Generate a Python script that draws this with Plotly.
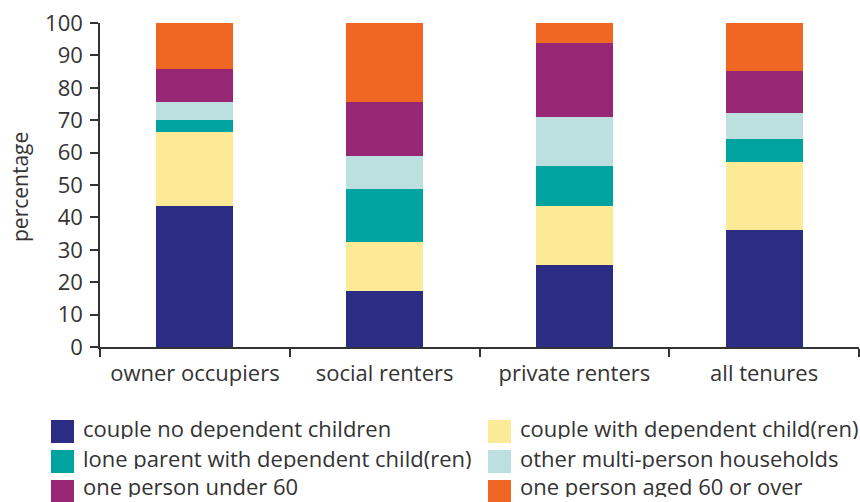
import plotly.graph_objects as go

categories = ["owner occupiers", "social renters", "private renters", "all tenures"]

couple_no_dep = [43.5, 17.3, 25.3, 36.1]
couple_with_dep = [22.9, 15.1, 18.2, 21.0]
lone_parent = [3.7, 16.4, 12.4, 7.1]
other_multi = [5.6, 10.2, 15.1, 8.0]
one_under_60 = [10.1, 16.6, 22.8, 13.0]
one_60_over = [14.2, 24.4, 6.2, 14.8]

series_names = [
    "couple no dependent children",
    "couple with dependent child(ren)",
    "lone parent with dependent child(ren)",
    "other multi-person households",
    "one person under 60",
    "one person aged 60 or over",
]
series_values = [couple_no_dep, couple_with_dep, lone_parent, other_multi, one_under_60, one_60_over]
series_colors = ["#2a2d83", "#fdea97", "#00a39f", "#bcdfe0", "#972774", "#ef6722"]

FONT = "Open Sans"
TXT = "#333333"

W, H = 860, 502
L, R, T, B = 100, 1, 23, 155
PW, PH = W - L - R, H - T - B


def px_x(px):
    return (px - L) / PW


def px_y(py):
    return (H - B - py) / PH


fig = go.Figure()
for name, vals, col in zip(series_names, series_values, series_colors):
    fig.add_trace(go.Bar(
        x=categories, y=vals, name=name, marker=dict(color=col, line=dict(width=0)),
        showlegend=False, hoverinfo="x+y+name",
    ))

# legend drawn as two columns of swatches + labels (row-major order)
shapes, annots = [], []
col_x = [51, 488]
row_top = [420, 450, 480]
text_shift = [3, 3, 6]
sw = 23
for i, (name, col) in enumerate(zip(series_names, series_colors)):
    c, r = i % 2, i // 2
    x0, y0 = col_x[c], row_top[r]
    shapes.append(dict(type="rect", xref="paper", yref="paper",
                       x0=px_x(x0), x1=px_x(x0 + sw), y0=px_y(y0 + sw), y1=px_y(y0),
                       fillcolor=col, line=dict(width=0), layer="above"))
    annots.append(dict(text=name, xref="paper", yref="paper",
                       x=px_x(x0 + 31), y=px_y(y0 + sw / 2 - text_shift[r]),
                       xanchor="left", yanchor="middle",
                       height=22, valign="middle", borderpad=0,
                       showarrow=False, font=dict(size=22, color=TXT, family=FONT)))

# y-axis title placed as rotated text left of the tick labels
annots.append(dict(text="percentage", xref="paper", yref="paper",
                   x=px_x(20), y=px_y(187), xanchor="center", yanchor="middle",
                   textangle=-90, showarrow=False,
                   font=dict(size=21, color=TXT, family=FONT)))

fig.update_layout(
    width=W, height=H,
    margin=dict(l=L, r=R, t=T, b=B, autoexpand=False),
    barmode="stack",
    bargap=0.595,
    showlegend=False,
    plot_bgcolor="white", paper_bgcolor="white",
    font=dict(family=FONT, size=20, color=TXT),
    shapes=shapes, annotations=annots,
    xaxis=dict(
        showline=True, linecolor="#333333", linewidth=1.5,
        ticks="outside", ticklen=8, tickcolor="#333333", tickwidth=1.5,
        tickson="boundaries", showgrid=False, zeroline=False, automargin=False,
        ticklabelstandoff=6,
        tickfont=dict(size=22, color=TXT, family=FONT),
    ),
    yaxis=dict(
        range=[0, 100], tickvals=list(range(0, 101, 10)),
        showline=True, linecolor="#333333", linewidth=1.5,
        ticks="outside", ticklen=8, tickcolor="#333333", tickwidth=1.5,
        showgrid=False, zeroline=False, automargin=False,
        ticklabelstandoff=3,
        tickfont=dict(size=22, color=TXT, family=FONT),
    ),
)

fig.write_html("out.html", config={"displayModeBar": False},
               post_script="document.body.style.margin='0';")
